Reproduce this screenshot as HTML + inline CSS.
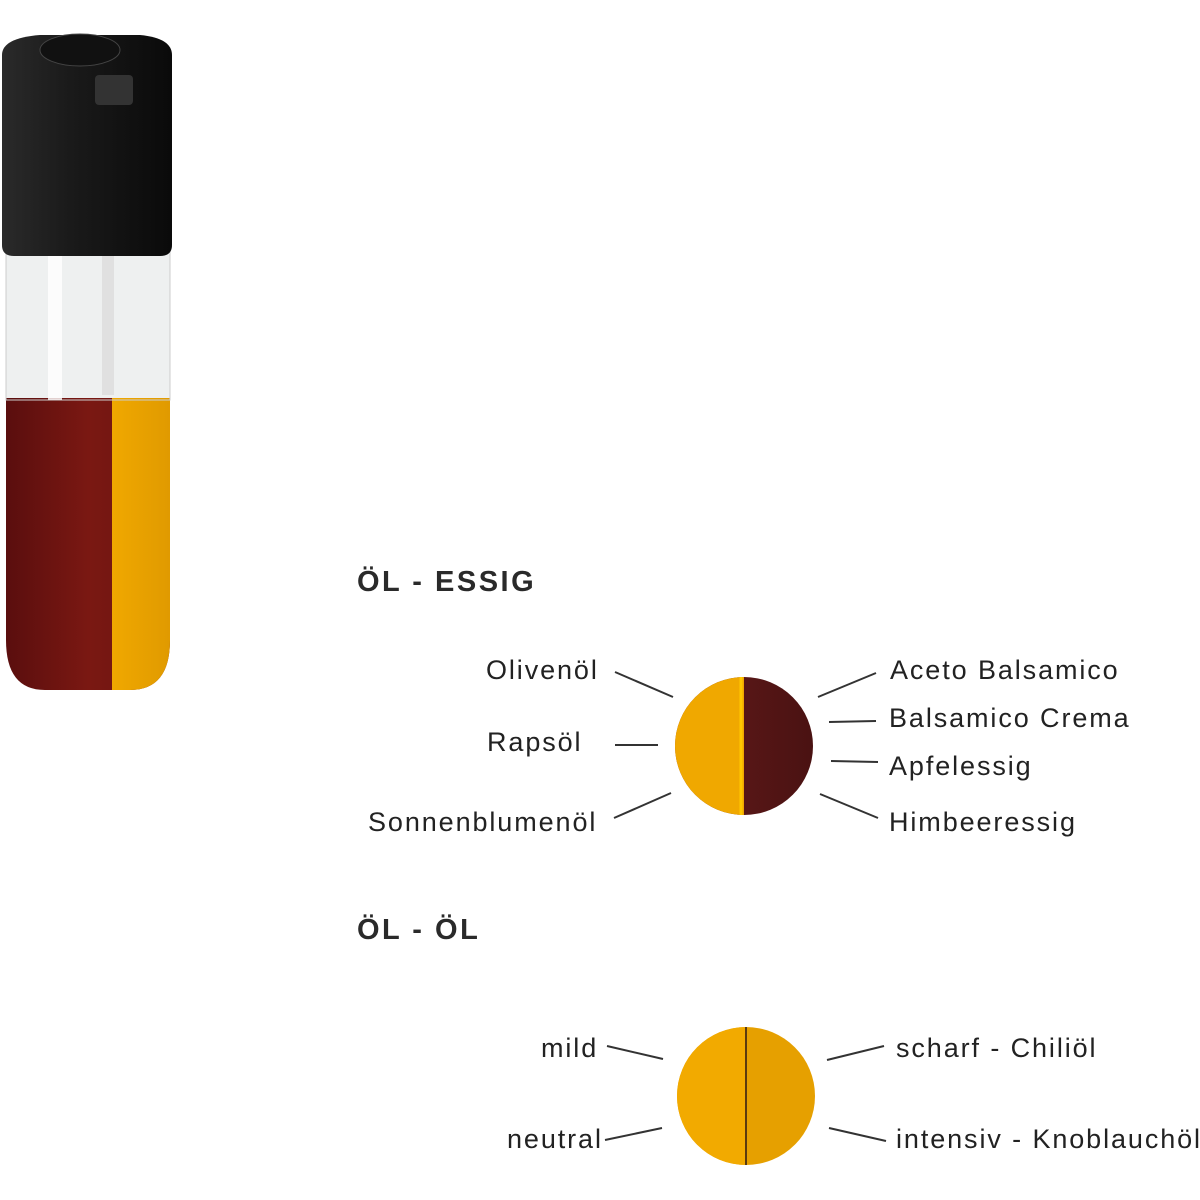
<!DOCTYPE html>
<html><head><style>
body{margin:0;width:1200px;height:1200px;background:#fff;position:relative;overflow:hidden;font-family:"Liberation Sans",sans-serif;color:#222}
.t{position:absolute;font-size:27px;letter-spacing:1.9px;white-space:nowrap;line-height:1}
.h{position:absolute;font-size:29px;font-weight:bold;letter-spacing:2.5px;color:#2a2a2a;line-height:1}
</style></head><body>
<svg width="1200" height="1200" style="position:absolute;left:0;top:0">
<defs>
<linearGradient id="cap" x1="0" x2="1"><stop offset="0" stop-color="#2a2a2a"/><stop offset=".4" stop-color="#1a1a1a"/><stop offset="1" stop-color="#0a0a0a"/></linearGradient>
<linearGradient id="red" x1="0" x2="1"><stop offset="0" stop-color="#5a0e0e"/><stop offset=".5" stop-color="#7a1812"/><stop offset="1" stop-color="#6a1410"/></linearGradient>
<linearGradient id="yel" x1="0" x2="1"><stop offset="0" stop-color="#f0a800"/><stop offset="1" stop-color="#e09a00"/></linearGradient>
<linearGradient id="cr" x1="0" x2="1"><stop offset="0" stop-color="#8a2a20"/><stop offset=".3" stop-color="#5c1818"/><stop offset="1" stop-color="#4a1212"/></linearGradient>
</defs>
<path d="M6 395 L170 395 L170 640 Q170 690 130 690 L45 690 Q6 690 6 640 Z" fill="url(#red)"/>
<path d="M112 395 L170 395 L170 640 Q170 690 130 690 L112 690 Z" fill="url(#yel)"/>
<rect x="6" y="250" width="164" height="148" fill="#eef0f0"/>
<path d="M6 250 L170 250 L170 400 L6 400 Z" fill="none" stroke="#ccc"/>
<rect x="48" y="250" width="14" height="150" fill="#fff" opacity=".8"/>
<rect x="102" y="250" width="12" height="145" fill="#e0e0e0"/>
<path d="M2 55 Q2 38 40 35 L140 35 Q172 38 172 55 L172 245 Q172 256 160 256 L14 256 Q2 256 2 245 Z" fill="url(#cap)"/>
<ellipse cx="80" cy="50" rx="40" ry="16" fill="#111" stroke="#444"/>
<rect x="95" y="75" width="38" height="30" rx="4" fill="#333"/>
<circle cx="744" cy="746" r="69" fill="url(#cr)"/>
<path d="M744 677 A69 69 0 0 0 744 815 Z" fill="#f0a800"/>
<line x1="741" y1="677" x2="741" y2="815" stroke="#ffc800" stroke-width="3"/>
<circle cx="746" cy="1096" r="69" fill="#e6a000"/>
<path d="M746 1027 A69 69 0 0 0 746 1165 Z" fill="#f2aa00"/>
<line x1="746" y1="1027" x2="746" y2="1165" stroke="#5a3a10" stroke-width="2"/>
<g stroke="#333" stroke-width="2">
<line x1="615" y1="672" x2="673" y2="697"/>
<line x1="615" y1="745" x2="658" y2="745"/>
<line x1="614" y1="818" x2="671" y2="793"/>
<line x1="818" y1="697" x2="876" y2="673"/>
<line x1="829" y1="722" x2="876" y2="721"/>
<line x1="831" y1="761" x2="878" y2="762"/>
<line x1="820" y1="794" x2="878" y2="818"/>
<line x1="607" y1="1046" x2="663" y2="1059"/>
<line x1="605" y1="1140" x2="662" y2="1128"/>
<line x1="827" y1="1060" x2="884" y2="1046"/>
<line x1="829" y1="1128" x2="886" y2="1141"/>
</g>
</svg>
<div class="h" style="left:357px;top:568px">ÖL - ESSIG</div>
<div class="h" style="left:357px;top:916px">ÖL - ÖL</div>
<div class="t" style="left:486px;top:657px">Olivenöl</div>
<div class="t" style="left:487px;top:729px">Rapsöl</div>
<div class="t" style="left:368px;top:809px">Sonnenblumenöl</div>
<div class="t" style="left:890px;top:657px">Aceto Balsamico</div>
<div class="t" style="left:889px;top:705px">Balsamico Crema</div>
<div class="t" style="left:889px;top:753px">Apfelessig</div>
<div class="t" style="left:889px;top:809px">Himbeeressig</div>
<div class="t" style="left:541px;top:1035px">mild</div>
<div class="t" style="left:507px;top:1126px">neutral</div>
<div class="t" style="left:896px;top:1035px">scharf - Chiliöl</div>
<div class="t" style="left:896px;top:1126px">intensiv - Knoblauchöl</div>
</body></html>
